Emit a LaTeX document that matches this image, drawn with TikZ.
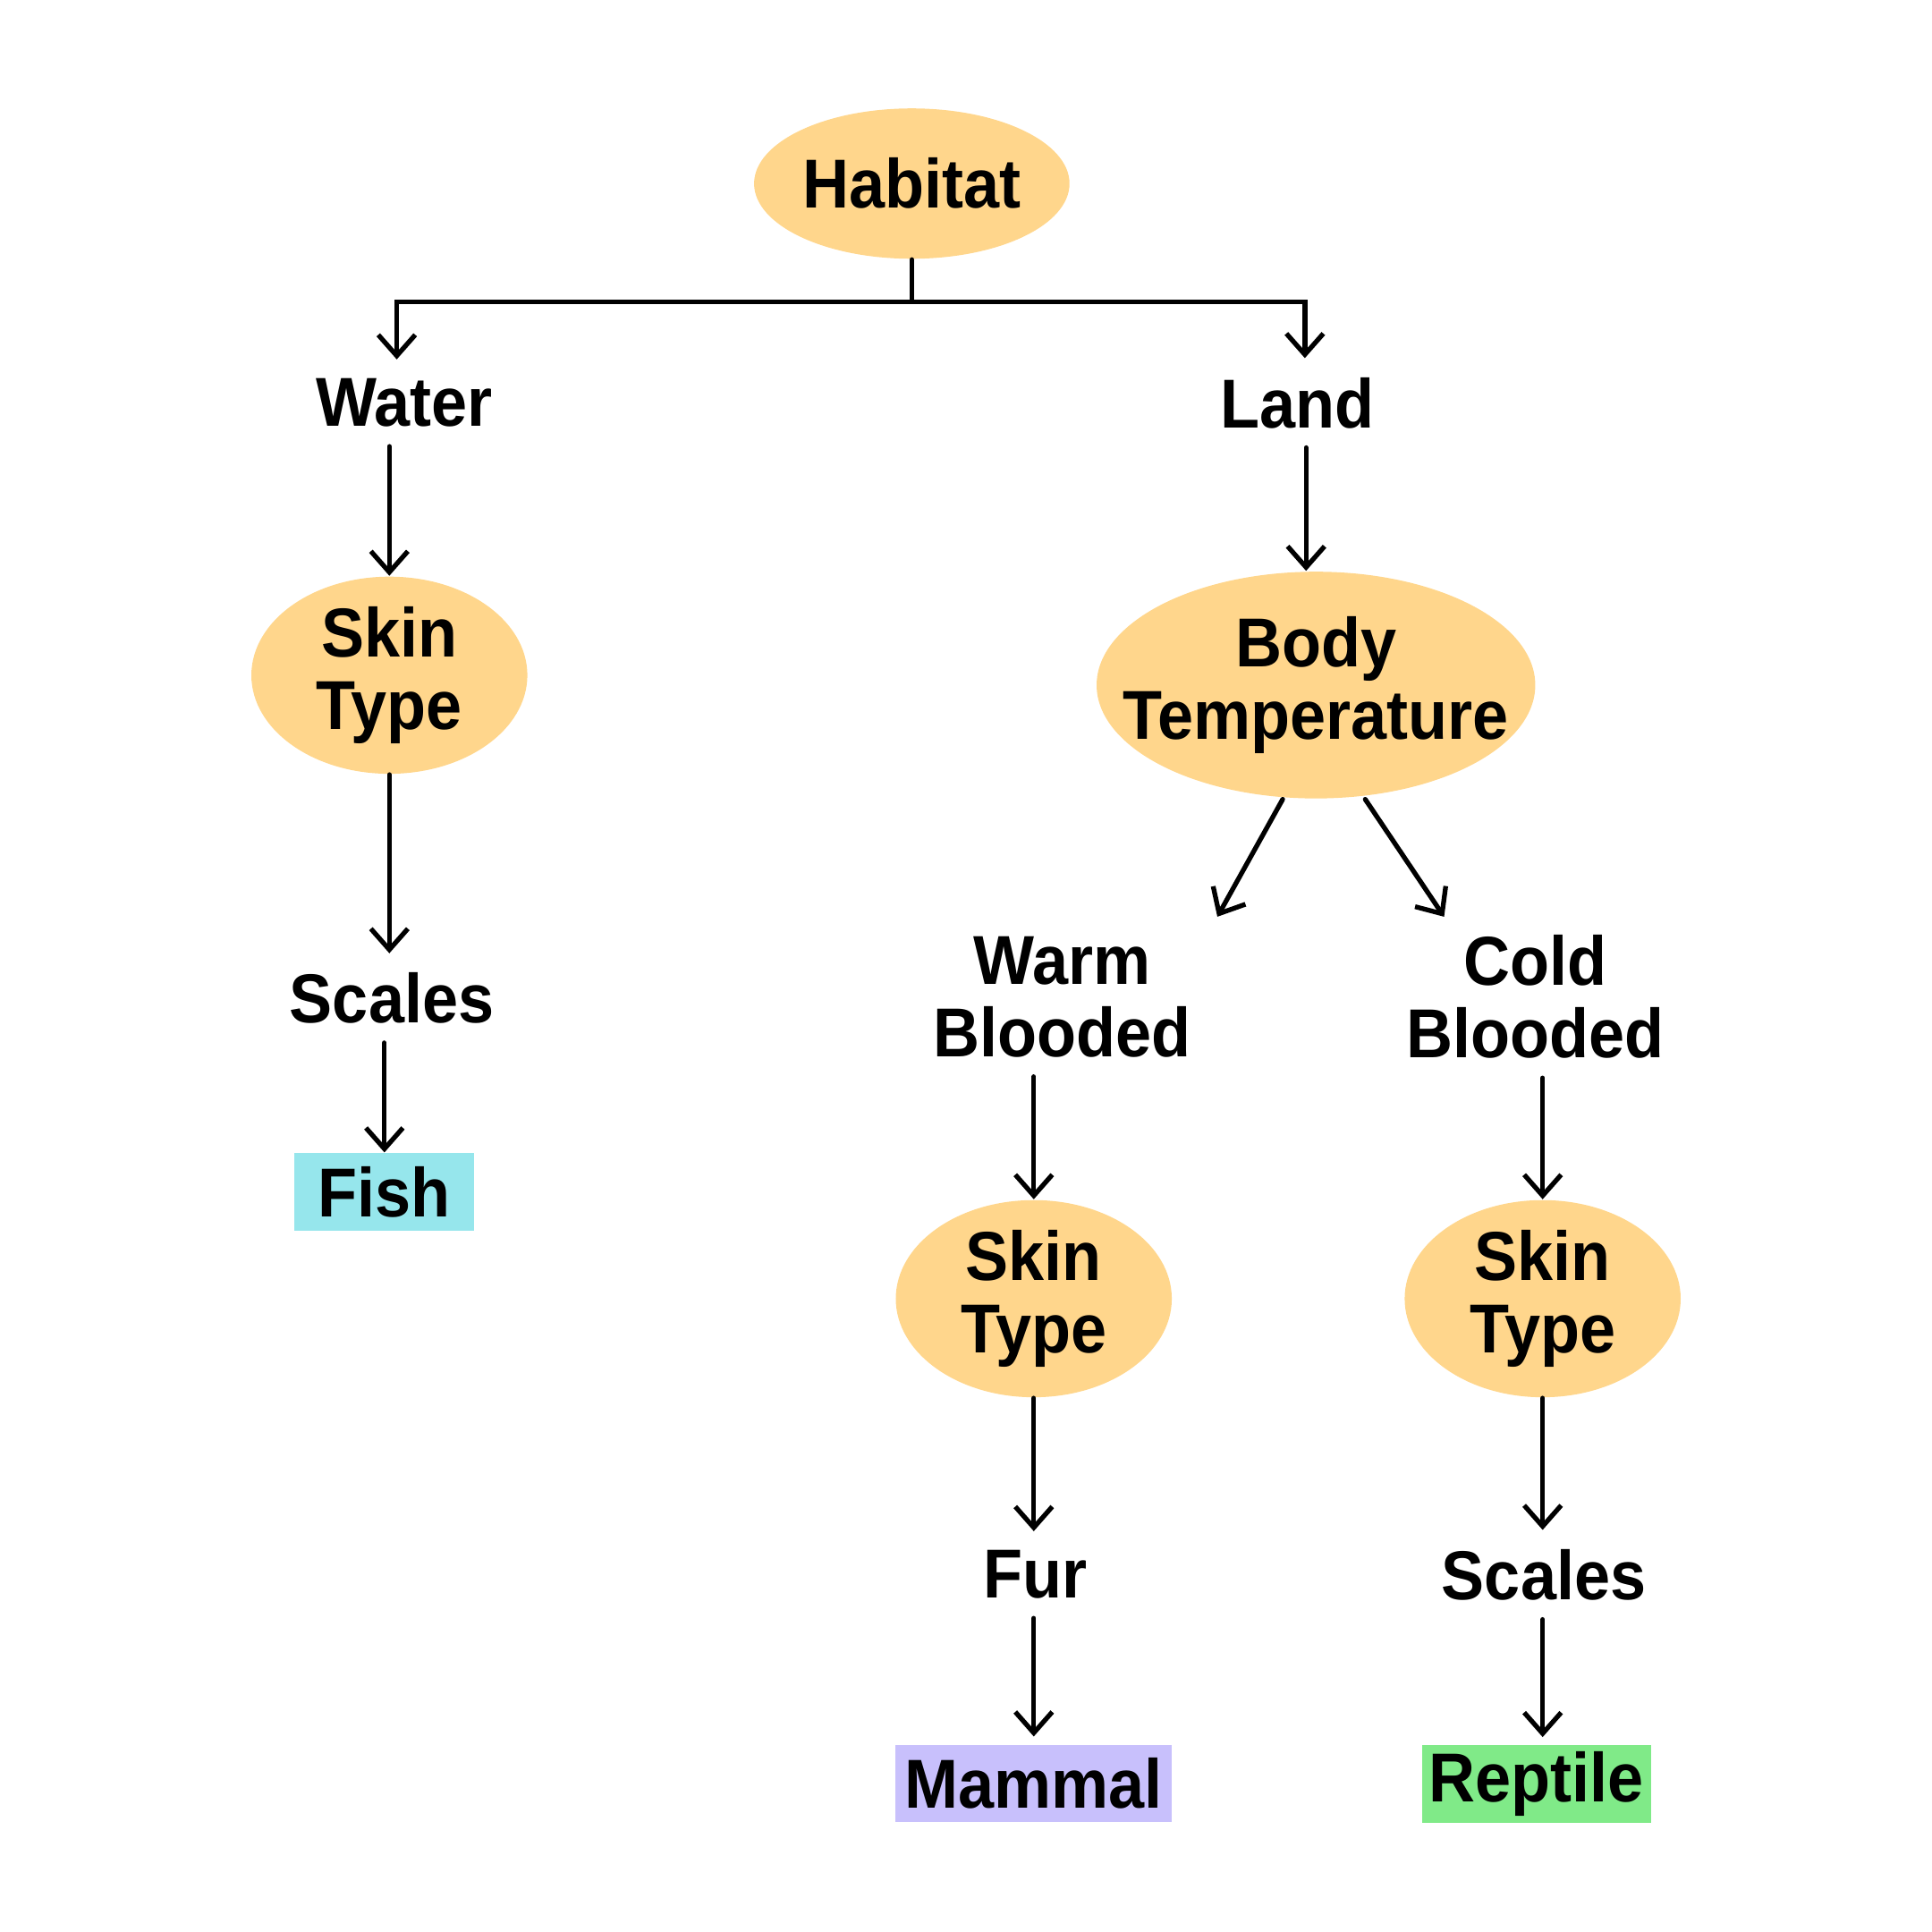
\documentclass[tikz,border=0pt]{standalone}
\usepackage{fontspec}
\setmainfont{Liberation Sans}[FakeStretch=0.93]
\usepackage{tikz}
\usetikzlibrary{arrows.meta,positioning,calc,shapes.geometric}
\definecolor{attrorange}{HTML}{FFD68C}
\definecolor{fishcyan}{HTML}{96E6EC}
\definecolor{mammalpurple}{HTML}{C8C0FC}
\definecolor{reptilegreen}{HTML}{80EA88}

\begin{document}
\begin{tikzpicture}[every node/.style={font=\fontsize{16}{16.8}\selectfont\bfseries,align=center},
  attr/.style={ellipse,fill=attrorange,inner sep=0pt},
  val/.style={inner sep=1.5mm},
  leaf/.style={rectangle,inner sep=0pt,minimum height=0.63cm},
  arr/.style={-{Straight Barb[length=1.7mm,width=3.0mm]},line width=1.1pt,line cap=round}]
\useasboundingbox (0,0) rectangle (15.68,-15.68);
% root
\node[attr,minimum width=2.56cm,minimum height=1.22cm] (habitat) at (7.40,-1.49) {Habitat};
\node[val] (water) at (3.28,-3.27) {Water};
\node[val] (land) at (10.53,-3.27) {Land};
% water branch
\node[attr,minimum width=2.24cm,minimum height=1.60cm] (skinw) at (3.16,-5.48) {Skin\\Type};
\node[val] (scalesw) at (3.18,-8.10) {Scales};
\node[leaf,fill=fishcyan,minimum width=1.46cm] (fish) at (3.12,-9.675) {Fish};
% land branch
\node[attr,inner xsep=-0.4cm,minimum width=3.56cm,minimum height=1.84cm] (bodyt) at (10.68,-5.56) {Body\\Temperature};
\node[val] (warm) at (8.62,-8.09) {Warm\\Blooded};
\node[val] (cold) at (12.46,-8.09) {Cold\\Blooded};
\foreach \name/\x in {skinm/8.39,skinr/12.52} {
  \node[attr,minimum width=2.24cm,minimum height=1.60cm] (\name) at (\x,-10.54) {Skin\\Type};
}
\node[val] (fur) at (8.40,-12.78) {Fur};
\node[val] (scalesr) at (12.53,-12.78) {Scales};
\node[leaf,fill=mammalpurple,minimum width=2.24cm] (mammal) at (8.39,-14.475) {Mammal};
\node[leaf,fill=reptilegreen,minimum width=1.86cm] (reptile) at (12.47,-14.48) {Reptile};
% connectors
\coordinate (fork) at (7.40,-2.45);
\coordinate (warmin) at (9.88,-7.44);
\coordinate (coldin) at (11.72,-7.44);
\draw[arr] (habitat.south) -- (fork) -| ([xshift=-0.06cm]water.north);
\draw[arr] (fork) -| ([xshift=0.06cm]land.north);
\draw[arr] (water.south -| skinw) -- (skinw.north);
\draw[arr] (skinw.south) -- (scalesw.north -| skinw);
\draw[arr] (scalesw.south -| fish) -- (fish.north);
\draw[arr] ([xshift=-0.08cm]bodyt.north |- land.south) -- ([xshift=-0.08cm]bodyt.north);
\draw[arr] ([xshift=-0.27cm]bodyt.south) -- (warmin);
\draw[arr] ([xshift=0.40cm]bodyt.south) -- (coldin);
\draw[arr] (warm.south -| skinm) -- (skinm.north);
\draw[arr] (cold.south -| skinr) -- (skinr.north);
\draw[arr] (skinm.south) -- (fur.north -| skinm);
\draw[arr] (skinr.south) -- (scalesr.north -| skinr);
\draw[arr] (fur.south -| mammal) -- ([yshift=0.06cm]mammal.north);
\draw[arr] (scalesr.south -| skinr) -- ([yshift=0.06cm]reptile.north -| skinr);
\end{tikzpicture}
\end{document}
